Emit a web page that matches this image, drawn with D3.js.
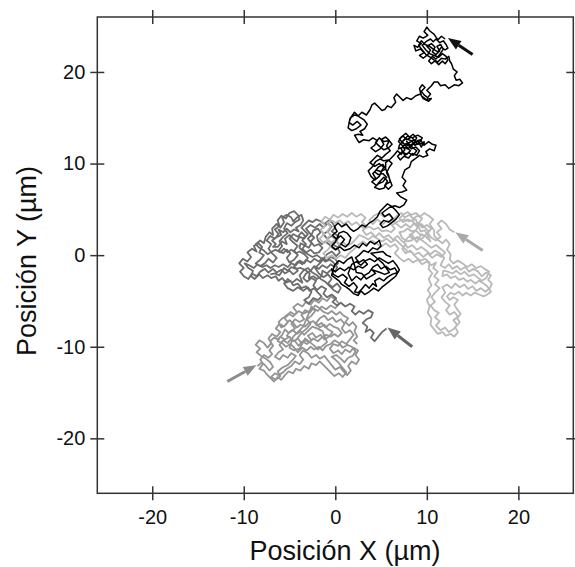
<!DOCTYPE html>
<html><head><meta charset="utf-8">
<script src="https://cdn.jsdelivr.net/npm/d3@7"></script>
<style>body{margin:0;background:#fff}svg{display:block}text{font-family:"Liberation Sans",Arial,sans-serif;fill:#111}</style>
</head><body><svg id="c" width="575" height="567"></svg>
<script>
const xTicks=[-20,-10,0,10,20];
const yTicks=[-20,-10,0,10,20];
const xTitle="Posición X (µm)";
const yTitle="Posición Y (µm)";
const seriesColors=["#949494","#6c6c6c","#b9b9b9","#000000"];

const mediumPathA=[[-8.5,-12.1],[-8.0,-11.7],[-7.6,-12.1],[-7.2,-12.6],[-6.8,-12.2],[-7.1,-11.7],[-7.6,-11.3],[-8.1,-11.0],[-8.6,-10.6],[-8.2,-10.2],[-8.7,-9.8],[-8.3,-9.3],[-7.8,-9.6],[-7.4,-10.1],[-7.0,-9.6],[-7.3,-9.1],[-6.9,-8.6],[-6.4,-8.9],[-6.0,-8.4],[-6.5,-8.0],[-6.1,-7.5],[-5.6,-7.8],[-5.2,-7.3],[-5.6,-6.8],[-5.1,-6.4],[-4.6,-6.7],[-4.2,-6.2],[-4.6,-5.7],[-4.1,-5.3],[-3.6,-5.6],[-3.2,-5.1],[-2.7,-5.4],[-2.3,-4.9],[-1.8,-5.2],[-1.4,-4.7],[-0.9,-5.0],[-0.5,-4.5],[0.0,-4.8],[0.4,-5.3],[0.0,-5.8],[-0.5,-5.5],[-1.0,-5.9],[-1.5,-5.6],[-1.9,-6.1],[-2.4,-5.8],[-2.8,-6.3],[-3.3,-6.0],[-3.7,-6.5],[-3.4,-7.0],[-3.9,-7.3],[-4.4,-7.0],[-4.8,-7.5],[-4.4,-8.0],[-4.9,-8.3],[-5.3,-8.8],[-4.8,-9.1],[-5.2,-9.6],[-5.7,-9.3],[-6.1,-9.8],[-5.7,-10.3],[-6.2,-10.6],[-6.6,-11.1],[-6.1,-11.4],[-5.7,-10.9],[-5.2,-11.2],[-4.8,-10.7],[-4.3,-11.0],[-4.7,-11.5],[-5.2,-12.0],[-5.8,-12.3],[-6.3,-12.7],[-6.0,-13.2],[-6.5,-13.6],[-7.0,-13.3],[-6.6,-12.9],[-6.2,-13.1],[-5.7,-12.8],[-5.3,-12.4],[-4.8,-12.1],[-4.4,-11.6],[-3.9,-11.9],[-3.5,-11.4],[-3.9,-10.9],[-3.5,-10.4],[-3.0,-10.7],[-2.6,-11.2],[-2.1,-10.9],[-1.7,-11.3],[-1.2,-11.0],[-0.8,-11.5],[-0.4,-12.0],[0.0,-12.5],[0.5,-12.2],[0.9,-12.7],[1.3,-13.1],[1.7,-12.6],[1.4,-12.1],[1.8,-11.6],[2.3,-11.9],[2.6,-11.4],[2.2,-10.9],[2.5,-10.4],[2.0,-10.1],[1.6,-10.6],[1.1,-10.3],[0.7,-10.8],[0.3,-10.4],[-0.2,-10.7],[-0.6,-10.2],[-0.2,-9.7],[0.3,-9.9],[0.7,-9.4],[1.2,-9.7],[1.6,-9.2],[2.0,-8.7],[1.6,-8.2],[1.1,-8.5],[0.7,-8.0],[1.0,-7.5],[0.6,-7.0],[0.1,-7.3],[-0.3,-6.8],[-0.8,-7.1],[-1.2,-6.6],[-1.7,-6.9],[-2.1,-7.4],[-1.7,-7.9],[-1.2,-7.6],[-0.8,-8.1],[-0.3,-8.4],[-0.7,-8.9],[-1.2,-9.2],[-1.6,-8.7],[-2.1,-9.0],[-2.5,-8.5],[-3.0,-8.8],[-2.6,-9.3],[-3.1,-9.7],[-3.6,-9.4],[-4.0,-9.9],[-4.4,-9.4],[-4.0,-8.9],[-3.6,-8.4],[-3.1,-8.0],[-2.7,-7.5],[-3.1,-7.0],[-2.6,-6.6],[-2.2,-6.1],[-2.6,-5.6],[-3.0,-6.6],[-3.5,-7.8],[-4.1,-8.4],[-4.6,-8.9],[-5.0,-10.1],[-4.5,-10.4],[-3.9,-10.2],[-3.3,-9.1],[-2.4,-9.8],[-1.9,-10.3],[-1.4,-9.9],[-0.9,-9.5],[-1.4,-8.3],[-2.0,-8.0],[-2.5,-7.8],[-3.0,-8.3]];
const mediumPathB=[[-3.4,-8.7],[-3.8,-8.3],[-4.2,-8.6],[-4.6,-8.2],[-5.1,-8.5],[-5.5,-8.1],[-5.8,-8.7],[-6.3,-9.2],[-6.7,-9.0],[-7.1,-9.4],[-6.8,-9.9],[-7.2,-10.4],[-6.9,-10.8],[-7.3,-11.2],[-7.8,-10.9],[-8.2,-11.4],[-7.9,-11.9],[-8.3,-12.4],[-7.8,-12.6],[-7.5,-13.0],[-7.1,-13.4],[-6.7,-13.8],[-6.3,-13.3],[-5.9,-13.6],[-5.5,-13.1],[-5.1,-12.7],[-4.6,-12.9],[-4.3,-12.4],[-3.8,-12.6],[-3.4,-12.1],[-2.9,-12.4],[-2.6,-11.8],[-2.1,-12.0],[-1.7,-11.6],[-1.3,-12.0],[-0.9,-12.4],[-0.5,-12.8],[-0.1,-13.2],[0.4,-12.9],[0.8,-13.3],[1.2,-12.8],[0.8,-12.3],[0.4,-11.8],[0.0,-11.4],[-0.4,-11.1],[0.1,-10.9],[0.6,-11.3],[1.0,-11.7],[1.4,-11.2],[1.9,-11.0],[2.2,-10.5],[1.8,-10.0],[1.3,-9.8],[0.8,-10.1],[0.4,-9.6],[-0.1,-9.3],[-0.5,-9.7],[-1.0,-9.9],[-1.4,-10.4],[-1.8,-10.0],[-2.3,-10.3],[-2.7,-10.0],[-3.1,-10.4],[-3.6,-10.1],[-4.1,-10.6],[-4.5,-10.1],[-4.9,-9.7],[-5.4,-10.0],[-5.8,-9.6],[-6.3,-9.4],[-6.0,-8.9],[-5.5,-9.2],[-5.0,-8.9],[-4.6,-9.4],[-4.1,-9.1],[-3.7,-9.6],[-3.3,-9.3],[-2.8,-9.5],[-2.4,-9.1],[-1.9,-9.4],[-1.5,-9.0],[-1.0,-8.7],[-0.5,-8.9],[-0.1,-8.6],[0.3,-8.9],[0.7,-8.5],[0.3,-8.0],[-0.2,-7.8],[-0.6,-7.5],[-1.1,-7.9],[-1.5,-7.4],[-2.0,-7.7],[-2.4,-7.2],[-2.9,-7.4],[-3.3,-7.8],[-3.8,-7.6],[-4.2,-7.9],[-4.6,-7.4],[-5.0,-7.1],[-5.4,-7.6],[-5.9,-7.9],[-6.2,-7.3],[-5.8,-6.9],[-5.3,-6.7],[-4.9,-6.2],[-4.4,-6.5],[-4.0,-6.1],[-3.5,-6.4],[-3.1,-6.2],[-2.6,-6.0],[-2.2,-5.5],[-1.7,-5.8],[-1.3,-6.2],[-0.8,-6.4],[-0.4,-6.1],[0.1,-6.5],[0.5,-6.2],[0.9,-6.6],[1.4,-6.9],[1.1,-7.3],[1.5,-7.7],[1.9,-7.3],[2.3,-7.8],[2.1,-8.3],[2.4,-8.9],[2.0,-9.3],[2.4,-9.7]];

const darkPathA=[[5.6,-8.0],[5.1,-8.4],[4.7,-8.9],[4.3,-9.4],[3.9,-9.0],[4.2,-8.5],[3.8,-8.1],[3.3,-8.4],[3.5,-7.8],[3.0,-7.4],[3.4,-7.0],[3.9,-6.8],[4.1,-6.3],[3.6,-6.0],[3.1,-6.4],[2.6,-6.1],[2.2,-6.5],[1.8,-6.1],[2.1,-5.6],[1.6,-5.3],[1.1,-5.6],[0.6,-5.2],[0.2,-5.5],[-0.3,-5.1],[0.1,-4.7],[-0.4,-4.3],[-0.9,-4.6],[-1.3,-4.2],[-1.0,-3.7],[-1.5,-3.4],[-2.0,-3.8],[-2.4,-3.3],[-2.1,-2.8],[-2.6,-2.5],[-3.1,-2.9],[-3.5,-2.5],[-3.2,-2.0],[-2.7,-1.7],[-2.3,-1.2],[-1.8,-1.5],[-1.4,-1.1],[-0.9,-1.4],[-0.5,-1.0],[-0.1,-1.3],[0.3,-0.9],[0.0,-0.4],[-0.5,-0.2],[-0.9,-0.6],[-1.4,-0.3],[-1.8,-0.7],[-2.3,-0.4],[-2.7,-0.8],[-3.2,-0.5],[-3.6,-1.0],[-4.1,-0.7],[-4.5,-1.2],[-4.1,-1.7],[-4.6,-2.1],[-5.0,-1.7],[-5.5,-2.0],[-5.9,-1.6],[-6.4,-1.9],[-6.8,-1.5],[-7.3,-1.9],[-7.7,-1.5],[-8.2,-1.8],[-8.6,-2.3],[-9.1,-2.0],[-9.5,-2.6],[-10.0,-2.3],[-10.4,-1.8],[-10.0,-1.4],[-10.5,-0.9],[-10.1,-0.4],[-9.6,-0.7],[-9.2,-0.2],[-9.6,0.3],[-9.1,0.7],[-8.6,0.4],[-8.9,1.0],[-8.4,1.3],[-8.0,0.9],[-8.3,0.3],[-7.8,0.0],[-8.2,-0.5],[-8.7,-0.9],[-8.2,-1.2],[-7.7,-0.9],[-7.3,-0.4],[-6.8,-0.8],[-6.4,-0.3],[-6.9,0.2],[-7.3,0.7],[-7.0,1.2],[-7.5,1.6],[-7.1,2.1],[-6.6,1.8],[-6.2,2.3],[-6.6,2.8],[-6.1,3.2],[-6.3,3.8],[-5.9,4.3],[-5.4,4.0],[-5.0,4.6],[-4.5,4.8],[-4.1,4.4],[-3.9,3.9],[-4.4,3.6],[-4.8,3.2],[-5.3,3.5],[-5.6,2.9],[-5.2,2.4],[-5.7,2.0],[-6.1,1.5],[-5.8,1.0],[-6.2,0.5],[-5.7,0.2],[-5.3,0.6],[-4.9,0.2],[-5.3,-0.3],[-5.0,-0.8],[-4.5,-0.5],[-4.1,0.0],[-4.5,0.5],[-4.1,1.0],[-4.6,1.4],[-5.0,1.8],[-4.6,2.3],[-4.1,2.0],[-3.7,2.5],[-3.3,2.1],[-3.6,1.6],[-3.2,1.2],[-3.6,0.7],[-3.2,0.3],[-2.7,0.6],[-2.3,0.2],[-1.8,0.3],[-1.4,0.8],[-1.8,1.2],[-2.3,1.0],[-2.7,1.5],[-2.3,1.9],[-2.8,2.4],[-3.2,2.9],[-2.7,3.3],[-2.2,3.0],[-1.7,3.4],[-1.3,3.0],[-0.8,3.5],[-0.4,3.1],[-0.8,2.6],[-1.3,2.3],[-0.9,1.8],[-0.4,2.1],[0.1,1.7],[-0.3,1.2],[0.2,0.9],[0.5,0.3],[0.1,-0.1],[-0.4,0.4],[-0.9,0.1],[-1.3,-0.4],[-1.7,-0.9],[-2.2,-1.4],[-1.8,-2.0],[-1.3,-2.4],[-0.8,-2.1],[-0.4,-2.6],[-0.8,-3.1],[-0.3,-3.5],[0.2,-3.1],[0.6,-3.6],[0.3,-4.1],[-0.2,-3.8],[-0.7,-3.3],[-1.1,-2.9],[-1.6,-2.6],[-2.0,-2.2],[-2.5,-1.9],[-3.0,-1.4],[-3.5,-1.7],[-3.9,-2.2],[-3.6,-3.0],[-4.2,-2.6],[-4.7,-3.0],[-5.2,-2.6],[-5.6,-3.1],[-5.2,-3.6],[-4.6,-3.9],[-4.1,-3.5],[-3.5,-3.9],[-3.0,-3.5],[-2.6,-4.0],[-2.9,-4.6],[-3.4,-4.9],[-2.9,-5.3],[-2.4,-4.7],[-1.9,-4.9],[-1.5,-4.5]];
const darkPathB=[[-1.9,-4.1],[-2.3,-3.6],[-2.8,-3.9],[-3.2,-3.4],[-3.7,-3.6],[-4.1,-3.1],[-4.6,-3.3],[-4.9,-2.8],[-5.4,-3.0],[-5.8,-2.5],[-6.2,-2.8],[-6.5,-2.3],[-7.0,-2.5],[-7.4,-2.2],[-7.9,-2.5],[-8.3,-2.1],[-8.8,-2.6],[-9.2,-2.3],[-9.0,-1.7],[-9.5,-1.4],[-9.9,-0.9],[-9.4,-1.1],[-8.9,-1.4],[-8.5,-1.0],[-8.0,-1.3],[-7.5,-1.1],[-7.1,-1.4],[-6.6,-1.1],[-6.2,-1.3],[-5.7,-1.0],[-5.2,-1.3],[-4.8,-0.9],[-4.3,-1.1],[-3.9,-0.6],[-3.4,-0.9],[-3.0,-0.3],[-3.4,0.1],[-3.9,0.4],[-4.3,0.2],[-4.8,0.6],[-5.2,0.3],[-5.6,0.7],[-6.0,0.3],[-6.5,0.6],[-6.9,0.4],[-7.4,0.1],[-7.8,0.5],[-8.3,0.8],[-8.7,1.2],[-8.2,1.6],[-7.8,1.3],[-7.6,2.0],[-7.2,2.5],[-6.8,2.2],[-6.9,2.9],[-6.4,3.4],[-6.0,3.0],[-5.6,3.6],[-5.8,4.1],[-5.3,4.4],[-4.8,4.1],[-4.6,3.7],[-4.2,4.1],[-3.7,4.4],[-3.5,3.8],[-3.8,3.3],[-4.3,3.0],[-4.0,2.6],[-4.5,2.8],[-4.9,2.5],[-5.3,2.9],[-5.7,2.5],[-6.2,2.8],[-5.9,2.2],[-6.5,1.9],[-6.9,1.6],[-6.5,1.2],[-6.8,0.9],[-6.3,0.9],[-5.8,1.5],[-5.3,1.2],[-5.5,1.8],[-5.0,2.2],[-4.6,1.8],[-4.2,1.5],[-3.9,2.0],[-3.4,1.8],[-3.0,2.3],[-3.3,2.6],[-3.7,3.0],[-3.3,3.4],[-2.9,3.8],[-2.5,3.6],[-2.1,3.9],[-1.6,3.7],[-1.2,3.4],[-0.7,3.8],[-0.3,3.5],[0.0,3.0],[-0.4,2.6],[0.0,2.3],[0.4,2.0],[0.1,1.5],[0.5,1.1],[0.1,0.6],[-0.3,0.8],[-0.7,1.2],[-1.1,1.5],[-1.5,1.2],[-1.9,1.6],[-2.0,2.1],[-1.6,2.5],[-1.9,2.9],[-2.4,2.7],[-2.6,2.2],[-3.0,1.8],[-2.6,1.3],[-2.9,0.8],[-3.4,1.1],[-3.8,1.3],[-3.9,0.8],[-3.5,0.4],[-3.0,0.1],[-2.5,-0.2],[-2.0,0.0],[-1.6,-0.3],[-1.1,-0.7],[-0.6,-0.5],[-0.2,-0.8],[0.2,-1.3],[0.0,-1.8],[-0.5,-1.6],[-0.9,-2.0],[-1.4,-1.7],[-1.5,-2.3],[-2.0,-2.6],[-2.4,-2.3],[-2.9,-2.5],[-2.8,-2.0],[-3.3,-1.6],[-3.8,-1.4],[-4.3,-1.5],[-4.8,-1.3],[-5.2,-1.7],[-5.6,-1.4],[-6.1,-2.2],[-6.6,-2.0],[-7.1,-2.1]];

const lightPathA=[[13.0,2.5],[12.5,2.8],[12.1,3.4],[11.6,3.8],[11.2,3.4],[11.6,2.9],[11.1,2.5],[11.5,2.0],[11.0,1.6],[10.5,1.9],[10.1,2.4],[10.5,2.9],[10.0,3.3],[9.5,3.0],[9.1,3.5],[9.5,4.0],[9.0,4.3],[8.5,4.0],[8.1,4.4],[7.6,4.1],[7.2,4.6],[6.7,4.3],[6.3,3.8],[6.7,3.4],[7.2,3.0],[7.7,3.4],[8.2,3.0],[8.6,3.5],[9.0,3.0],[8.6,2.5],[8.1,2.2],[8.5,1.7],[9.0,2.0],[9.5,1.6],[10.0,1.2],[10.5,0.8],[11.0,1.1],[11.5,0.7],[12.0,0.3],[11.6,-0.2],[11.1,0.1],[10.6,-0.3],[10.1,0.2],[9.6,-0.2],[9.1,0.3],[8.6,0.0],[8.2,0.5],[7.7,0.2],[7.3,0.7],[7.7,1.2],[7.2,1.6],[6.8,2.1],[6.3,1.7],[5.8,2.2],[5.3,1.9],[4.8,2.4],[4.4,2.0],[3.9,2.5],[3.4,2.2],[3.0,2.7],[3.4,3.2],[2.9,3.6],[3.3,4.1],[2.8,4.5],[2.3,4.2],[1.8,4.6],[1.3,4.2],[0.8,4.5],[0.3,4.1],[-0.2,4.4],[-0.6,3.9],[-1.1,4.2],[-1.5,3.7],[-1.1,3.2],[-1.6,2.8],[-1.2,2.3],[-1.7,1.8],[-1.3,1.3],[-0.8,1.6],[-0.4,1.1],[-0.8,0.6],[-1.3,0.2],[-0.9,-0.3],[-0.4,0.0],[0.1,-0.4],[0.6,0.0],[1.1,-0.3],[1.5,0.2],[2.0,0.6],[2.5,1.1],[3.0,1.5],[3.5,1.2],[4.0,1.6],[4.5,1.3],[5.0,0.9],[5.5,1.3],[6.0,0.9],[6.5,1.2],[6.9,0.7],[6.5,0.2],[7.0,-0.3],[7.5,-0.7],[8.0,-0.4],[8.5,-0.8],[9.0,-0.5],[9.5,-1.0],[10.0,-0.7],[10.5,-1.1],[11.0,-0.8],[10.7,-1.4],[11.2,-1.8],[10.8,-2.3],[11.3,-2.7],[10.9,-3.2],[11.4,-3.6],[10.9,-4.1],[10.5,-4.6],[10.9,-5.1],[10.4,-5.5],[10.8,-6.0],[11.3,-6.3],[10.9,-6.8],[11.4,-7.2],[11.0,-7.7],[11.5,-8.2],[12.0,-7.9],[12.4,-8.4],[12.9,-8.1],[13.3,-7.6],[12.9,-7.1],[13.4,-6.7],[13.0,-6.2],[12.5,-6.5],[12.1,-6.0],[12.5,-5.5],[12.0,-5.1],[11.6,-4.6],[12.0,-4.1],[11.7,-3.5],[12.2,-3.2],[12.7,-3.6],[13.1,-3.1],[13.6,-3.5],[14.1,-3.2],[14.5,-3.7],[15.0,-3.4],[15.4,-3.9],[15.9,-3.6],[16.4,-4.0],[16.9,-3.6],[17.1,-3.1],[16.7,-2.7],[17.0,-2.2],[16.5,-1.9],[16.0,-2.3],[15.6,-1.8],[15.1,-1.5],[14.6,-1.8],[14.2,-1.3],[13.7,-1.6],[13.3,-1.2],[12.8,-1.5],[12.4,-1.0],[12.0,-1.4],[11.5,-1.1],[11.9,-0.3],[11.4,0.2],[10.9,0.5],[10.4,0.1],[9.9,0.5],[9.4,0.9],[8.9,0.6],[8.4,1.1],[7.9,0.8],[7.5,1.4],[7.9,1.9],[8.4,2.2],[8.9,1.4],[9.4,2.3],[9.9,2.0],[10.4,1.5],[9.8,2.7],[9.3,2.6],[8.8,3.9],[8.0,3.7],[7.5,3.9],[6.9,3.7],[6.2,3.3],[5.7,3.8],[5.2,3.4],[4.6,3.9],[4.1,3.4],[3.7,3.8],[4.2,4.3],[4.8,4.6],[5.3,4.2]];
const lightPathB=[[5.8,4.5],[6.2,4.1],[6.0,3.5],[6.5,2.9],[6.1,2.5],[5.6,2.7],[5.1,2.6],[4.7,3.0],[4.2,2.8],[3.7,3.1],[3.2,2.9],[2.7,3.2],[2.3,3.6],[1.8,3.3],[1.4,3.7],[0.9,3.4],[0.5,3.8],[0.0,3.5],[-0.4,3.8],[-0.9,3.5],[-0.5,3.1],[-0.9,2.6],[-0.5,2.2],[-0.9,1.8],[-0.5,1.4],[0.0,1.6],[0.4,1.2],[0.9,1.4],[1.3,1.0],[1.8,1.3],[2.2,1.7],[2.6,2.2],[3.1,2.0],[3.6,1.7],[4.1,2.1],[4.6,1.8],[5.1,1.5],[5.6,1.8],[6.1,1.4],[6.6,1.7],[7.0,1.3],[7.4,0.9],[7.9,0.4],[8.4,0.3],[8.8,-0.2],[9.3,-0.6],[9.8,-0.4],[10.3,-0.8],[10.2,-1.5],[10.6,-2.0],[10.2,-2.6],[10.5,-3.3],[10.1,-3.8],[10.4,-4.3],[10.0,-4.9],[10.3,-5.6],[10.1,-6.3],[10.5,-6.9],[10.4,-7.6],[10.8,-8.1],[11.2,-8.6],[11.7,-8.4],[12.1,-8.8],[12.6,-8.6],[13.0,-8.9],[13.4,-8.4],[13.1,-7.9],[13.6,-7.3],[13.3,-6.9],[13.7,-6.4],[13.3,-5.9],[13.0,-5.4],[13.4,-4.9],[12.9,-4.6],[12.5,-4.9],[12.2,-4.5],[12.6,-4.1],[13.0,-4.3],[13.5,-4.0],[13.9,-4.4],[14.3,-4.1],[14.8,-4.4],[15.2,-4.1],[15.7,-4.3],[16.2,-4.5],[16.6,-4.3],[17.0,-4.0],[16.6,-3.4],[16.2,-3.1],[15.7,-2.8],[15.3,-3.1],[14.8,-2.7],[14.4,-2.9],[14.0,-2.5],[13.5,-2.7],[13.1,-2.3],[12.6,-2.5],[12.2,-2.1],[11.7,-2.3],[11.8,-1.7],[12.3,-1.8],[12.8,-2.0],[13.2,-1.7],[13.7,-2.1],[14.1,-1.8],[14.6,-2.3],[15.1,-2.1],[15.5,-2.4],[16.0,-2.8],[16.5,-2.5],[16.8,-1.8],[16.3,-1.5],[15.9,-1.2],[15.4,-1.4],[14.9,-1.0],[14.4,-1.3],[13.9,-0.9],[13.4,-0.6],[12.9,-0.9],[12.5,-0.5],[12.6,0.1],[12.2,0.6],[12.5,1.2],[12.1,1.7],[11.7,1.3],[11.3,1.6],[10.8,2.1],[10.8,2.7],[10.3,3.4],[10.7,3.9],[10.2,4.3],[9.7,4.6],[9.3,4.2],[8.8,4.6],[8.3,4.4],[7.9,4.7],[7.4,4.4],[7.0,4.0],[7.4,3.6],[7.9,3.9],[8.4,3.7],[8.9,3.3],[9.4,3.4],[9.8,3.0],[10.2,2.6],[9.9,2.3],[9.6,1.9],[9.2,1.7],[8.8,1.9],[8.3,1.6],[7.8,1.5],[7.3,1.9],[7.0,2.5],[7.5,2.6],[7.9,2.9],[8.3,2.6],[8.8,2.7],[9.2,2.3],[9.7,2.1]];

const blackPathA=[[12.0,23.6],[11.6,23.9],[11.2,23.5],[10.8,24.1],[10.3,24.5],[10.0,24.9],[9.7,24.4],[10.1,24.0],[9.6,23.7],[9.2,23.9],[8.9,23.4],[9.4,23.1],[9.0,22.7],[8.6,22.9],[8.8,22.3],[9.3,22.5],[9.7,22.1],[9.2,21.8],[9.6,21.5],[10.1,21.9],[10.4,22.4],[10.0,22.8],[10.5,23.1],[10.9,22.7],[10.6,22.2],[11.0,21.9],[11.4,22.3],[11.1,22.8],[11.5,23.0],[11.8,22.5],[11.4,21.9],[11.0,21.4],[10.6,21.7],[10.2,21.2],[10.5,20.9],[10.9,21.2],[11.3,20.8],[11.7,21.2],[12.0,20.9],[12.3,21.3],[12.1,21.7],[11.7,22.0],[11.3,21.6],[10.8,21.8],[10.3,22.0],[9.9,22.4],[9.5,22.9],[9.9,23.3],[10.4,23.6],[10.7,23.3],[11.0,23.6],[11.4,23.2],[11.8,23.4],[12.1,23.0],[12.3,22.6],[12.0,22.4],[11.6,22.7],[11.2,22.2],[10.7,22.5],[10.3,22.8],[9.8,23.0],[9.4,23.4],[9.1,22.9],[9.5,22.4],[9.9,21.9],[10.4,21.6],[10.8,21.3],[11.2,21.1],[11.6,21.5],[12.0,21.4],[12.4,21.7],[12.5,21.2],[12.7,20.9],[12.9,20.3],[13.3,20.0],[13.0,19.6],[13.2,19.1],[13.6,19.2],[13.9,18.8],[13.5,18.5],[13.0,18.6],[12.4,18.2],[12.0,18.6],[11.5,18.5],[11.2,18.9],[10.8,18.9],[10.5,18.5],[10.0,18.0],[10.4,17.6],[10.1,17.2],[9.7,17.5],[9.4,17.9],[9.8,18.3],[9.5,18.6],[9.2,18.2],[9.4,17.4],[9.9,17.0],[10.5,17.1],[10.2,16.8],[9.6,17.1],[9.3,17.6],[8.8,17.4],[8.3,17.0],[7.8,17.2],[7.4,16.9],[7.0,17.3],[6.7,17.6],[6.4,17.2],[6.6,16.7],[6.1,16.1],[5.7,16.3],[5.4,15.9],[5.1,15.8],[4.7,16.2],[4.3,16.6],[4.0,16.4],[3.8,15.9],[3.4,15.3],[2.9,15.6],[2.5,15.2],[2.1,15.3],[1.7,15.0],[1.5,14.5],[1.9,14.2],[2.4,14.6],[2.8,14.2],[2.3,13.8],[1.8,13.6],[1.4,13.9],[1.6,14.9],[2.1,15.6],[2.6,15.1],[3.1,14.8],[3.5,14.3],[3.2,13.8],[2.7,13.5],[3.0,13.1],[2.5,13.2],[2.1,13.1],[2.4,12.6],[2.6,12.3],[3.1,12.6],[3.7,12.5],[4.1,12.8],[4.6,12.5],[4.3,12.0],[3.9,11.7],[4.4,11.3],[4.9,11.6],[5.3,12.1],[5.0,12.6],[5.5,12.9],[5.9,12.5],[6.2,12.1],[5.8,11.7],[5.3,11.5],[4.8,11.9],[4.4,12.3],[4.8,12.8],[5.3,12.4],[5.9,12.5],[5.6,11.9],[6.0,11.4],[5.5,11.0],[5.1,10.6],[4.6,10.9],[4.2,10.5],[3.8,10.1],[4.3,9.7],[4.8,10.0],[5.3,9.6],[5.0,9.1],[4.5,9.3],[4.1,8.9],[4.4,8.4],[4.0,8.0],[4.5,7.6],[4.9,8.1],[5.3,8.5],[5.7,8.1],[5.4,7.6],[5.8,7.2],[6.2,7.6],[5.9,8.4],[5.6,9.0],[5.9,9.6],[6.2,10.0],[5.8,10.4],[5.3,10.3],[4.9,10.5],[4.4,10.2],[4.0,9.6],[3.6,9.2],[3.9,8.6],[4.3,8.2],[4.8,8.6],[5.1,9.2],[5.5,9.4],[5.2,9.9],[4.7,9.6],[4.3,9.1],[4.7,8.8],[5.2,8.9],[5.6,8.5],[5.2,8.0],[4.7,7.8],[4.3,7.4],[4.8,7.2],[5.3,7.3],[5.6,7.8],[6.0,8.0],[5.8,8.8],[5.5,9.4],[5.5,10.1],[6.0,10.5],[6.4,10.9],[6.8,11.4],[7.2,11.0],[7.6,11.5],[7.3,12.0],[6.9,12.4],[7.2,12.9],[7.7,13.3],[8.1,12.9],[8.5,13.2],[8.9,12.8],[8.6,12.3],[8.2,12.0],[7.8,12.4],[8.3,11.6],[8.8,11.8],[9.2,11.4],[8.9,10.9],[8.4,11.1],[8.0,10.6],[7.5,10.8],[7.1,10.4],[6.8,10.8],[7.3,11.3],[7.8,11.0],[8.2,11.4],[7.7,11.9],[7.3,12.4],[7.7,12.7],[8.3,12.5],[8.7,12.0],[9.2,12.3],[9.5,12.8],[9.0,13.1],[8.4,12.8],[7.9,13.0],[7.5,12.6],[7.0,12.0],[6.9,11.6],[7.4,11.8],[7.9,11.6],[8.5,12.1],[9.0,12.5],[9.4,11.8],[9.7,12.4],[9.7,12.0],[9.3,12.6],[8.8,12.4],[8.3,12.9],[7.8,12.6],[7.4,13.0],[7.0,12.7],[7.4,12.2],[7.9,12.0],[8.4,11.8],[8.9,11.4],[8.5,10.9],[8.0,11.2],[7.6,10.9],[7.2,11.6],[7.6,12.1],[8.1,12.3],[8.6,12.6],[9.0,12.1],[9.4,12.2],[9.7,12.0],[10.2,12.4],[10.6,12.1],[11.0,12.0],[10.8,11.4],[10.3,11.6],[9.9,11.3],[10.1,10.9],[9.6,10.7],[9.2,10.9],[8.7,10.5],[8.3,10.2],[8.1,9.6],[7.6,9.3],[7.3,8.5],[7.7,8.1],[7.4,7.6],[7.8,7.1],[7.3,6.9],[6.7,6.8],[7.1,6.4],[7.8,6.0],[7.5,5.5],[7.0,5.2],[6.5,5.4],[5.9,5.2],[5.5,4.9],[5.1,4.6],[5.4,4.2],[5.9,4.5],[6.3,4.0],[5.8,3.6],[5.3,3.8],[4.9,3.4],[5.2,3.0],[5.7,3.2],[6.1,3.5],[6.6,3.9],[7.0,4.4],[6.6,4.9],[6.2,5.3],[5.7,5.6],[5.3,5.2],[4.9,4.8],[4.6,4.2],[4.2,3.8],[3.7,3.5],[3.3,3.1],[2.9,3.3],[2.5,2.9],[2.0,2.6],[1.6,2.9],[1.2,3.4],[0.7,3.1],[0.3,3.5],[-0.1,3.1],[0.2,2.6],[-0.3,2.2],[0.1,1.8],[0.6,2.1],[1.0,1.7],[0.6,1.2],[1.1,0.9],[1.5,1.3],[1.7,1.9],[1.3,2.4],[0.9,2.6],[0.4,2.4],[0.0,1.4],[-0.4,1.0],[0.0,0.6],[0.5,0.9],[1.0,0.5],[1.6,0.7],[2.1,1.1],[2.6,0.8],[3.0,1.3],[3.4,1.0],[3.8,1.5],[4.3,1.2],[4.8,1.6],[5.0,1.0],[4.6,0.6],[4.1,0.8],[3.6,0.3],[3.1,0.5],[2.6,0.0],[2.2,-0.3],[2.6,-0.8],[3.1,-0.5],[3.5,-1.0],[3.0,-1.4],[2.5,-1.2],[2.0,-1.6],[1.5,-1.3],[1.0,-1.7],[0.5,-1.4],[0.0,-1.8],[-0.4,-1.5],[-0.2,-2.1],[0.3,-2.4],[0.8,-2.1],[1.3,-2.5],[1.0,-3.0],[1.5,-3.4],[2.0,-3.0],[2.4,-3.5],[2.1,-4.0],[2.5,-4.1],[2.9,-3.7],[3.3,-3.2],[3.7,-3.6],[4.1,-3.1],[4.5,-3.4],[4.3,-2.8],[4.8,-2.5],[5.3,-2.8],[5.7,-2.4],[6.2,-2.1],[6.8,-1.9],[6.5,-1.4],[6.0,-1.6],[5.5,-1.2],[5.0,-1.5],[4.6,-1.0],[4.1,-1.3],[3.7,-1.9],[3.2,-2.2],[2.8,-2.7],[2.3,-2.3],[1.8,-2.8],[1.4,-2.0],[1.8,-1.0],[2.3,-0.7],[2.8,-1.1]];
const blackPathB=[[3.3,-0.6],[3.8,-0.4],[4.3,-0.7],[4.8,-0.3],[5.3,-0.6],[5.8,-0.9],[6.3,-0.6],[6.7,-1.1],[7.0,-1.6],[6.6,-2.3],[6.1,-2.7],[5.6,-3.1],[5.1,-3.5],[4.7,-3.9],[4.2,-3.6],[3.7,-4.0],[3.2,-4.3],[2.8,-3.9],[2.5,-4.4],[2.0,-4.2],[1.6,-3.8],[1.2,-3.5],[0.7,-3.2],[0.4,-2.8],[0.0,-2.5],[-0.4,-2.2],[-0.1,-1.1],[0.4,-0.6],[0.9,-0.9],[1.3,-0.5],[1.8,-0.2],[2.1,-1.1],[2.3,-1.9],[2.9,-2.0],[3.4,-2.6],[3.9,-2.3],[4.4,-2.0],[4.0,-1.6],[4.9,-1.9],[5.4,-2.1],[5.9,-1.9],[5.2,-0.9],[4.4,-0.2],[3.9,0.2],[4.5,0.3],[5.2,0.4],[5.6,0.0],[6.1,-0.2]];

// start-point arrows: tail and tip in data units
const arrowTails=[[-11.8,-13.8],[8.4,-10.0],[16.1,0.5],[15.0,21.9]];
const arrowTips=[[-8.6,-12.0],[5.7,-7.9],[13.1,2.5],[12.3,23.7]];
const arrowColors=["#8c8c8c","#666666","#a9a9a9","#111111"];

const svg=d3.select("#c");
const L=97.3,R=573.3,T=17,B=493.3;
const x=d3.scaleLinear().domain([-26,26]).range([L,R]);
const y=d3.scaleLinear().domain([-26,26]).range([B,T]);

const paths=[mediumPathA.concat(mediumPathB),darkPathA.concat(darkPathB),lightPathA.concat(lightPathB),blackPathA.concat(blackPathB)];
const widths=[1.8,1.8,1.8,1.5];
const line=d3.line().x(d=>x(d[0])).y(d=>y(d[1]));
const plot=svg.append("g");
paths.forEach((p,i)=>{
  plot.append("path").attr("d",line(p)).attr("fill","none")
    .attr("stroke",seriesColors[i]).attr("stroke-width",widths[i])
    .attr("stroke-linejoin","round");
});

arrowTips.forEach((tip,i)=>{
  const t=arrowTails[i];
  const x1=x(t[0]),y1=y(t[1]),x2=x(tip[0]),y2=y(tip[1]);
  const ang=Math.atan2(y2-y1,x2-x1);
  const hl=13,hw=5;
  const bx=x2-hl*Math.cos(ang),by=y2-hl*Math.sin(ang);
  plot.append("line").attr("x1",x1).attr("y1",y1).attr("x2",bx).attr("y2",by)
    .attr("stroke",arrowColors[i]).attr("stroke-width",3);
  const px=-Math.sin(ang)*hw,py=Math.cos(ang)*hw;
  plot.append("path").attr("d",`M${x2},${y2}L${bx+px},${by+py}L${bx-px},${by-py}Z`)
    .attr("fill",arrowColors[i]);
});

svg.append("rect").attr("x",L).attr("y",T).attr("width",R-L).attr("height",B-T)
  .attr("fill","none").attr("stroke","#333").attr("stroke-width",1.5);

function styleAxis(g){g.select(".domain").remove();g.selectAll("line").attr("stroke","#333").attr("stroke-width",1.5);}
const tk=7, fmt=d=>String(d);
svg.append("g").attr("transform",`translate(0,${B})`).call(d3.axisBottom(x).tickValues(xTicks).tickFormat(fmt).tickSize(tk).tickSizeOuter(0).tickPadding(9.5)).call(styleAxis)
  .selectAll("text").attr("font-size",20).attr("font-family","Liberation Sans, Arial, sans-serif").attr("fill","#111");
svg.append("g").attr("transform",`translate(0,${B})`).call(d3.axisTop(x).tickValues(xTicks).tickSize(tk).tickFormat("")).call(styleAxis);
svg.append("g").attr("transform",`translate(0,${T})`).call(d3.axisTop(x).tickValues(xTicks).tickSize(tk).tickFormat("")).call(styleAxis);
svg.append("g").attr("transform",`translate(0,${T})`).call(d3.axisBottom(x).tickValues(xTicks).tickSize(tk).tickFormat("")).call(styleAxis);
svg.append("g").attr("transform",`translate(${L},0)`).call(d3.axisLeft(y).tickValues(yTicks).tickFormat(fmt).tickSize(tk).tickSizeOuter(0).tickPadding(5)).call(styleAxis)
  .selectAll("text").attr("font-size",20).attr("font-family","Liberation Sans, Arial, sans-serif").attr("fill","#111");
svg.append("g").attr("transform",`translate(${L},0)`).call(d3.axisRight(y).tickValues(yTicks).tickSize(tk).tickFormat("")).call(styleAxis);
svg.append("g").attr("transform",`translate(${R},0)`).call(d3.axisRight(y).tickValues(yTicks).tickSize(tk).tickFormat("")).call(styleAxis);
svg.append("g").attr("transform",`translate(${R},0)`).call(d3.axisLeft(y).tickValues(yTicks).tickSize(tk).tickFormat("")).call(styleAxis);

svg.append("text").attr("x",345).attr("y",560).attr("text-anchor","middle").attr("font-size",27).text(xTitle);
svg.append("text").attr("transform","translate(36,261) rotate(-90)").attr("text-anchor","middle").attr("font-size",27).text(yTitle);
</script></body></html>
